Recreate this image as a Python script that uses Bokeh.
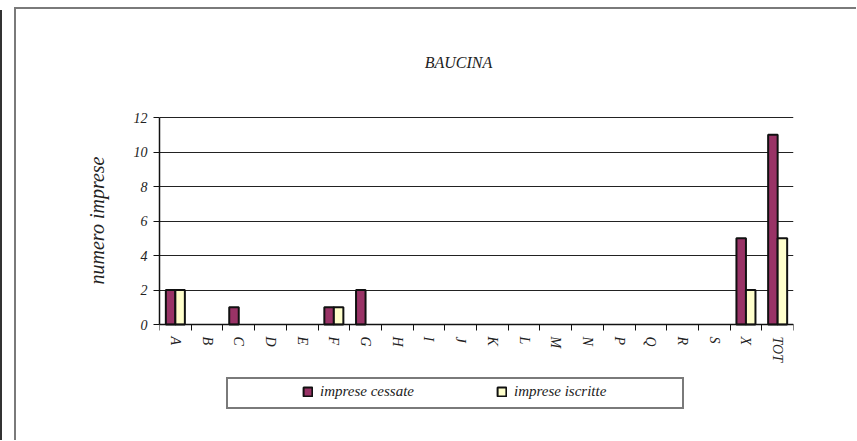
import numpy as np
from bokeh.plotting import figure
from bokeh.models import (Range1d, FixedTicker, Legend, LegendItem, ColumnDataSource,
                          Label)
from bokeh.embed import file_html
from bokeh.resources import INLINE

categories = ["A", "B", "C", "D", "E", "F", "G", "H", "I", "J", "K", "L", "M",
              "N", "P", "Q", "R", "S", "X", "TOT"]
cessate = [2, 0, 1, 0, 0, 1, 2, 0, 0, 0, 0, 0, 0, 0, 0, 0, 0, 0, 5, 11]
iscritte = [2, 0, 0, 0, 0, 1, 0, 0, 0, 0, 0, 0, 0, 0, 0, 0, 0, 0, 2, 5]
y_ticks = [0, 2, 4, 6, 8, 10, 12]
title_text = "BAUCINA"
y_label = "numero imprese"
series_names = ["imprese cessate", "imprese iscritte"]
colors = ["#993366", "#FFFFCC"]

FONT = "Liberation Serif"
TXT = "#222222"

# layout (pixels on the page)
LEFT, PLOT_TOP, PLOT_BOTTOM = 159, 117, 324   # plot area for values 0..12
PLOT_W = 634
FRAME_TOP, FRAME_BOTTOM = 39, 401            # frame symmetric about the plot centre
y_max_val = 12
px_per_unit = (PLOT_BOTTOM - PLOT_TOP) / y_max_val
y_hi = y_max_val + (PLOT_TOP - FRAME_TOP) / px_per_unit
y_lo = -(FRAME_BOTTOM - PLOT_BOTTOM) / px_per_unit

n = len(categories)
centers = list(np.arange(n) + 0.5)
bar_w = 0.3


def series_source(values, shift):
    # zero values are not drawn (as in the original chart)
    xs = [c + shift for c, v in zip(centers, values) if v != 0]
    tops = [v for v in values if v != 0]
    return ColumnDataSource(dict(x=xs, top=tops))


src_c = series_source(cessate, -bar_w / 2)
src_i = series_source(iscritte, bar_w / 2)

p = figure(frame_width=PLOT_W, frame_height=FRAME_BOTTOM - FRAME_TOP,
           output_backend="svg", toolbar_location=None,
           x_range=Range1d(0, n), y_range=Range1d(y_lo, y_hi),
           min_border_left=LEFT, min_border_right=63, min_border_top=FRAME_TOP,
           min_border_bottom=39)
p.background_fill_alpha = 0
p.border_fill_alpha = 0
p.outline_line_color = None


def css_line(x, y, w, h, c):
    return f"linear-gradient({c},{c}) {x}px {y}px / {w}px {h}px no-repeat"


# page frame + legend box lines drawn as CSS background behind the transparent canvas
p.styles = {
    "background": ", ".join([
        css_line(14, 7, 2, 1000, "#7a7a7a"),
        css_line(14, 7, 1000, 2, "#7a7a7a"),
        css_line(0, 10, 2, 1000, "#333333"),
        css_line(226, 377, 458, 2, "#7a7a7a"),
        css_line(226, 407, 458, 2, "#7a7a7a"),
        css_line(226, 377, 2, 32, "#7a7a7a"),
        css_line(682, 377, 2, 32, "#7a7a7a"),
    ]) + ", white"
}

r1 = p.vbar(x="x", top="top", width=bar_w, source=src_c, fill_color=colors[0],
            line_color="#111111", line_width=2)
r2 = p.vbar(x="x", top="top", width=bar_w, source=src_i, fill_color=colors[1],
            line_color="#111111", line_width=2)

# title (inside the frame area, above the plot)
p.add_layout(Label(x=458 - LEFT, y=FRAME_BOTTOM - 62, x_units="screen", y_units="screen",
                   text=title_text, text_font=FONT, text_font_style="italic",
                   text_font_size="16px", text_align="center", text_baseline="middle",
                   text_color=TXT))

# y axis
yax = p.yaxis[0]
yax.ticker = FixedTicker(ticks=y_ticks)
yax.bounds = (0, y_max_val)
yax.axis_line_color = "#111111"
yax.axis_line_width = 1.5
yax.major_tick_out = 6
yax.major_tick_in = 0
yax.minor_tick_line_color = None
yax.major_tick_line_color = "#111111"
yax.major_label_text_font = FONT
yax.major_label_text_font_style = "italic"
yax.major_label_text_font_size = "14px"
yax.major_label_text_color = TXT
yax.major_label_standoff = 6
yax.axis_label = y_label
yax.axis_label_text_font = FONT
yax.axis_label_text_font_style = "italic"
yax.axis_label_text_font_size = "20px"
yax.axis_label_text_color = TXT
yax.axis_label_standoff = 23

# x axis, drawn at y = 0
xax = p.xaxis[0]
xax.fixed_location = 0
xax.ticker = FixedTicker(ticks=centers, minor_ticks=list(range(n + 1)))
xax.major_label_overrides = {c: cat for c, cat in zip(centers, categories)}
xax.major_tick_line_color = None
xax.minor_tick_line_color = "#111111"
xax.minor_tick_out = 6
xax.minor_tick_in = 0
xax.axis_line_color = "#111111"
xax.axis_line_width = 1.5
xax.major_label_orientation = "vertical"
xax.major_label_text_font = FONT
xax.major_label_text_font_style = "italic"
xax.major_label_text_font_size = "14px"
xax.major_label_text_color = TXT
xax.major_label_standoff = 6

# grid: horizontal lines 0..12, right border of the plot area
p.ygrid.ticker = FixedTicker(ticks=y_ticks)
p.ygrid.grid_line_color = "#222222"
p.ygrid.grid_line_width = 1
p.xgrid.ticker = FixedTicker(ticks=[n])
p.xgrid.bounds = (0, y_max_val)
p.xgrid.grid_line_color = "#808080"
p.xgrid.grid_line_width = 1.5

legend = Legend(items=[LegendItem(label=series_names[0], renderers=[r1]),
                       LegendItem(label=series_names[1], renderers=[r2])],
                orientation="horizontal", location=(143, 1.5),
                glyph_width=11, glyph_height=11, label_standoff=7, label_width=136,
                spacing=40, padding=0, margin=0, label_height=15,
                border_line_color=None, background_fill_alpha=0,
                label_text_font=FONT, label_text_font_style="italic",
                label_text_font_size="15px", label_text_color=TXT)
p.add_layout(legend, "center")

open("out.html", "w").write(file_html(p, INLINE))
